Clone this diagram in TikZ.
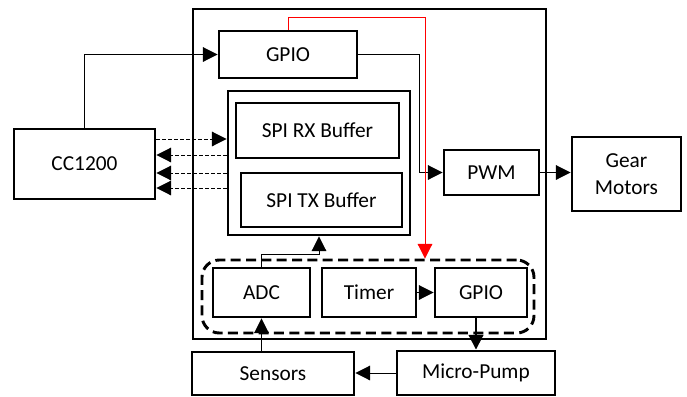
\documentclass[tikz,border=0pt]{standalone}
\usepackage{fontspec}
\setmainfont{Carlito}
\usetikzlibrary{positioning, arrows.meta}

\begin{document}
\begin{tikzpicture}[
    x=0.75pt, y=-0.75pt,
    block/.style={draw=black, line width=2.2pt, inner sep=0pt,
        font=\fontsize{16}{20}\selectfont},
    link/.style={-{Triangle[length=11pt, width=11pt]}, line width=0.75pt, draw=black},
    dlink/.style={link, dash pattern=on 3pt off 1.5pt},
    redlink/.style={-{Triangle[length=11pt, width=11pt, fill=red]}, line width=0.75pt, draw=red}
]
    \useasboundingbox (0,0) rectangle (687,397);

    % Controller outline
    \node[block, minimum width=264.75pt, minimum height=247.5pt] (mcu) at (369.5,174) {};
    \node[block, minimum width=103.5pt, minimum height=35.25pt] (gpio) at (288,54.5) {GPIO};
    \node[block, minimum width=136.5pt, minimum height=108pt] (spi) at (319,163) {};
    \node[block, minimum width=122.25pt, minimum height=41.25pt] (rx) at (317.5,130.5) {SPI RX Buffer};
    \node[block, minimum width=120.75pt, minimum height=40.5pt] (tx) at (321.5,200) {SPI TX Buffer};
    \node[block, minimum width=71.25pt, minimum height=33.75pt] (pwm) at (491.5,172.5) {PWM};

    % Low power peripherals
    \node[block, dash pattern=on 7.5pt off 4pt, rounded corners=13pt,
        minimum width=249pt, minimum height=54.75pt] (lowpow) at (368,296.5) {};
    \node[block, minimum width=72.75pt, minimum height=36.75pt] (adc) at (261.5,292.5) {ADC};
    \node[block, minimum width=70.5pt, minimum height=36.75pt] (timer) at (369,292.5) {Timer};
    \node[block, minimum width=69pt, minimum height=36.75pt] (gpiob) at (481,292.5) {GPIO};

    % External parts
    \node[block, minimum width=105.75pt, minimum height=52.5pt] (radio) at (84.5,164) {CC1200};
    \node[block, align=center, minimum width=81.75pt, minimum height=55.5pt] (motors) at (626.5,174) {Gear\\Motors};
    \node[block, minimum width=121.5pt, minimum height=32.25pt] (sensors) at (273,373.5) {Sensors};
    \node[block, minimum width=118.5pt, minimum height=33pt] (pump) at (476,373) {Micro-Pump};

    \coordinate (redtop) at (425,17);

    % Radio links
    \draw[link] (radio.north) |- (gpio.west);
    \draw[dlink] (radio.east |- 0,139) -- (spi.west |- 0,139);
    \foreach \yy in {155,173,188}
        \draw[dlink] (spi.west |- 0,\yy) -- (radio.east |- 0,\yy);

    % Motor drive
    \draw[link] (gpio.east) -- (gpio.east -| 419,0) |- (pwm.west);
    \draw[link] (pwm.east) -- (pwm.east -| motors.west);
    \draw[redlink] (gpio.north) |- (redtop) -- (redtop |- lowpow.north);

    % Sensing loop
    \draw[link] (adc.north) -- ++(0,-12) -| (spi.south);
    \draw[link] (timer.east) -- (gpiob.west);
    \draw[link, line width=1.5pt] (gpiob.south -| pump.north) -- (pump.north);
    \draw[link] (pump.west) -- (pump.west -| sensors.east);
    \draw[link] (sensors.north -| adc.south) -- (adc.south);
\end{tikzpicture}
\end{document}
